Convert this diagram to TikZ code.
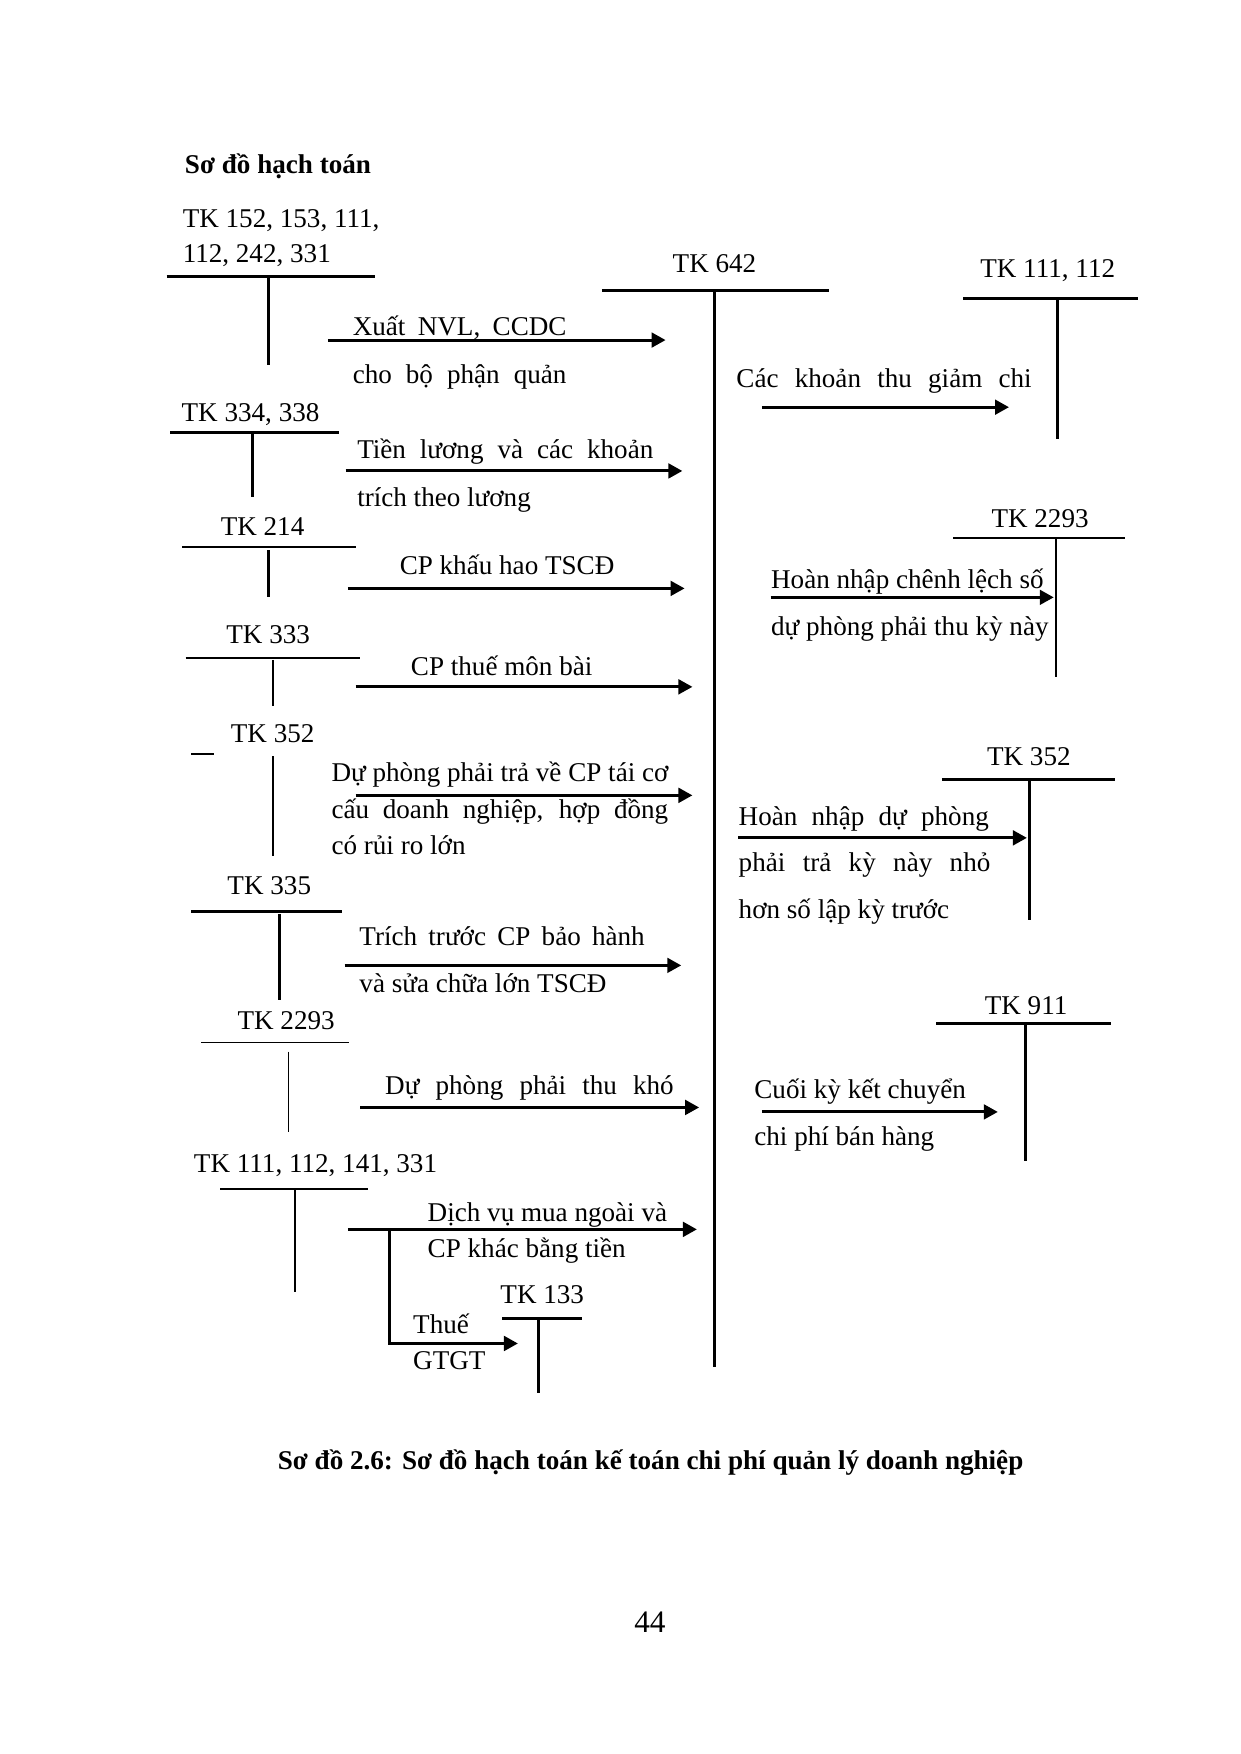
\documentclass[tikz,border=0pt]{standalone}
\usepackage{fontspec}
\setmainfont{Liberation Serif}
\usetikzlibrary{arrows.meta}
\newcommand{\jst}[2]{\makebox[#1][s]{#2}}
\begin{document}
\begin{tikzpicture}[x=0.5365pt,y=-0.5365pt,
  txt/.style={anchor=base west,inner sep=0pt,font=\fontsize{13pt}{15pt}\selectfont},
  btxt/.style={anchor=base west,inner sep=0pt,font=\fontsize{13pt}{15pt}\selectfont\bfseries},
  tline/.style={line width=1.4pt},
  tthin/.style={line width=0.8pt},
  arr/.style={line width=1.45pt,-{Triangle[length=6.7pt,width=7pt]}}]
\useasboundingbox[fill=white] (0,0) rectangle (1109,1568);

% ---------- texts ----------
\node[btxt] (title) at (165,155) {Sơ đồ hạch toán};
\node[txt] (k1a) at (163,203) {TK 152, 153, 111,};
\node[txt] (k1b) at (163,235) {112, 242, 331};
\node[txt] (k642) at (601,244) {TK 642};
\node[txt] (k1112) at (876,248) {TK 111, 112};
\node[txt] (l1a) at (315,300) {\jst{102.5pt}{Xuất NVL, CCDC}};
\node[txt] (l1b) at (315,343) {\jst{102.5pt}{cho bộ phận quản}};
\node[txt] (r1) at (658,346) {\jst{141.6pt}{Các khoản thu giảm chi}};
\node[txt] (k334) at (162,377) {TK 334, 338};
\node[txt] (l2a) at (319,410) {\jst{142pt}{Tiền lương và các khoản}};
\node[txt] (l2b) at (319,453) {trích theo lương};
\node[txt] (k2293r) at (886,472) {TK 2293};
\node[txt] (k214) at (197,479) {TK 214};
\node[txt] (l3) at (357,514) {CP khấu hao TSCĐ};
\node[txt] (r2a) at (689,526) {Hoàn nhập chênh lệch số};
\node[txt] (r2b) at (689,568) {dự phòng phải thu kỳ này};
\node[txt] (k333) at (202,575) {TK 333};
\node[txt] (l4) at (367,604) {CP thuế môn bài};
\node[txt] (k352l) at (206,664) {TK 352};
\node[txt] (k352r) at (882,684) {TK 352};
\node[txt] (l5a) at (296,699) {Dự phòng phải trả về CP tái cơ};
\node[txt] (l5b) at (296,732) {\jst{161.5pt}{cấu doanh nghiệp, hợp đồng}};
\node[txt] (l5c) at (296,764) {có rủi ro lớn};
\node[txt] (r3a) at (660,738) {\jst{120pt}{Hoàn nhập dự phòng}};
\node[txt] (r3b) at (660,779) {\jst{120.7pt}{phải trả kỳ này nhỏ}};
\node[txt] (r3c) at (660,821) {hơn số lập kỳ trước};
\node[txt] (k335) at (203,800) {TK 335};
\node[txt] (l6a) at (321,845) {\jst{136.8pt}{Trích trước CP bảo hành}};
\node[txt] (l6b) at (321,887) {và sửa chữa lớn TSCĐ};
\node[txt] (k911) at (880,907) {TK 911};
\node[txt] (k2293l) at (212,920) {TK 2293};
\node[txt] (l7) at (344,978) {\jst{138.4pt}{Dự phòng phải thu khó}};
\node[txt] (r4a) at (674,982) {Cuối kỳ kết chuyển};
\node[txt] (r4b) at (674,1024) {chi phí bán hàng};
\node[txt] (k111b) at (173,1048) {TK 111, 112, 141, 331};
\node[txt] (l8a) at (382,1092) {Dịch vụ mua ngoài và};
\node[txt] (l8b) at (382,1124) {CP khác bằng tiền};
\node[txt] (k133) at (447,1165) {TK 133};
\node[txt] (l9a) at (369,1192) {Thuế};
\node[txt] (l9b) at (369,1224) {GTGT};
\node[btxt] (cap) at (248,1314) {Sơ đồ 2.6: Sơ đồ hạch toán kế toán chi phí quản lý doanh nghiệp};
\node[txt,anchor=base,font=\fontsize{15pt}{17pt}\selectfont] (pg) at (581,1459) {44};

% ---------- T-accounts ----------
\coordinate (t1l) at (149,247); \coordinate (t1r) at (335,247);
\coordinate (t1t) at (240,247); \coordinate (t1b) at (240,326);
\draw[tline] (t1l) -- (t1r); \draw[tline] (t1t) -- (t1b);

\coordinate (t642l) at (538,260); \coordinate (t642r) at (741,260);
\coordinate (t642t) at (639,260); \coordinate (t642b) at (639,1222);
\draw[tline] (t642l) -- (t642r); \draw[tline] (t642t) -- (t642b);

\coordinate (t1112l) at (861,267); \coordinate (t1112r) at (1017,267);
\coordinate (t1112t) at (945,267); \coordinate (t1112b) at (945,392);
\draw[tline] (t1112l) -- (t1112r); \draw[tline] (t1112t) -- (t1112b);

\coordinate (t334l) at (152,387); \coordinate (t334r) at (303,387);
\coordinate (t334t) at (226,387); \coordinate (t334b) at (226,444);
\draw[tline] (t334l) -- (t334r); \draw[tline] (t334t) -- (t334b);

\coordinate (t214l) at (163,489); \coordinate (t214r) at (318,489);
\coordinate (t214t) at (240,492); \coordinate (t214b) at (240,534);
\draw[tline] (t214l) -- (t214r); \draw[tline] (t214t) -- (t214b);

\coordinate (t2293rl) at (852,481); \coordinate (t2293rr) at (1006,481);
\coordinate (t2293rt) at (944,481); \coordinate (t2293rb) at (944,605);
\draw[tthin] (t2293rl) -- (t2293rr); \draw[tline] (t2293rt) -- (t2293rb);

\coordinate (t333l) at (166,588); \coordinate (t333r) at (322,588);
\coordinate (t333t) at (244,590); \coordinate (t333b) at (244,631);
\draw[tthin] (t333l) -- (t333r); \draw[tthin] (t333t) -- (t333b);

\coordinate (t352ll) at (171,674); \coordinate (t352lr) at (191,674);
\coordinate (t352lt) at (244,676); \coordinate (t352lb) at (244,765);
\draw[tthin] (t352ll) -- (t352lr); \draw[tthin] (t352lt) -- (t352lb);

\coordinate (t352rl) at (842,697); \coordinate (t352rr) at (997,697);
\coordinate (t352rt) at (920,697); \coordinate (t352rb) at (920,822);
\draw[tline] (t352rl) -- (t352rr); \draw[tline] (t352rt) -- (t352rb);

\coordinate (t335l) at (171,815); \coordinate (t335r) at (306,815);
\coordinate (t335t) at (250,817); \coordinate (t335b) at (250,894);
\draw[tline] (t335l) -- (t335r); \draw[tline] (t335t) -- (t335b);

\coordinate (t911l) at (837,915); \coordinate (t911r) at (993,915);
\coordinate (t911t) at (917,915); \coordinate (t911b) at (917,1038);
\draw[tline] (t911l) -- (t911r); \draw[tline] (t911t) -- (t911b);

\coordinate (t2293ll) at (180,932); \coordinate (t2293lr) at (312,932);
\coordinate (t2293lt) at (258,940); \coordinate (t2293lb) at (258,1012);
\draw[tthin] (t2293ll) -- (t2293lr); \draw[tthin] (t2293lt) -- (t2293lb);

\coordinate (t111bl) at (197,1063); \coordinate (t111br) at (329,1063);
\coordinate (t111bt) at (264,1063); \coordinate (t111bb) at (264,1155);
\draw[tthin] (t111bl) -- (t111br); \draw[tthin] (t111bt) -- (t111bb);

\coordinate (t133l) at (449,1179); \coordinate (t133r) at (520,1179);
\coordinate (t133t) at (481,1179); \coordinate (t133b) at (481,1245);
\draw[tline] (t133l) -- (t133r); \draw[tline] (t133t) -- (t133b);

% ---------- arrows ----------
\coordinate (a1s) at (293,304); \coordinate (a1e) at (595,304);
\draw[arr] (a1s) -- (a1e);
\coordinate (a2s) at (309,421); \coordinate (a2e) at (610,421);
\draw[arr] (a2s) -- (a2e);
\coordinate (a3s) at (311,526); \coordinate (a3e) at (612,526);
\draw[arr] (a3s) -- (a3e);
\coordinate (a4s) at (318,614); \coordinate (a4e) at (619,614);
\draw[arr] (a4s) -- (a4e);
\coordinate (a5s) at (318,711); \coordinate (a5e) at (619,711);
\draw[arr] (a5s) -- (a5e);
\coordinate (a6s) at (308,863); \coordinate (a6e) at (609,863);
\draw[arr] (a6s) -- (a6e);
\coordinate (a7s) at (322,990); \coordinate (a7e) at (625,990);
\draw[arr] (a7s) -- (a7e);
\coordinate (a8s) at (311,1099); \coordinate (a8e) at (623,1099);
\draw[arr] (a8s) -- (a8e);
\coordinate (a9s) at (348,1099); \coordinate (a9m) at (348,1201); \coordinate (a9e) at (463,1201);
\draw[arr] (a9s) -- (a9m) -- (a9e);

\coordinate (b1s) at (681,364); \coordinate (b1e) at (902,364);
\draw[arr] (b1s) -- (b1e);
\coordinate (b2s) at (689,534); \coordinate (b2e) at (942,534);
\draw[arr] (b2s) -- (b2e);
\coordinate (b3s) at (660,749); \coordinate (b3e) at (918,749);
\draw[arr] (b3s) -- (b3e);
\coordinate (b4s) at (681,994); \coordinate (b4e) at (892,994);
\draw[arr] (b4s) -- (b4e);
\end{tikzpicture}
\end{document}
